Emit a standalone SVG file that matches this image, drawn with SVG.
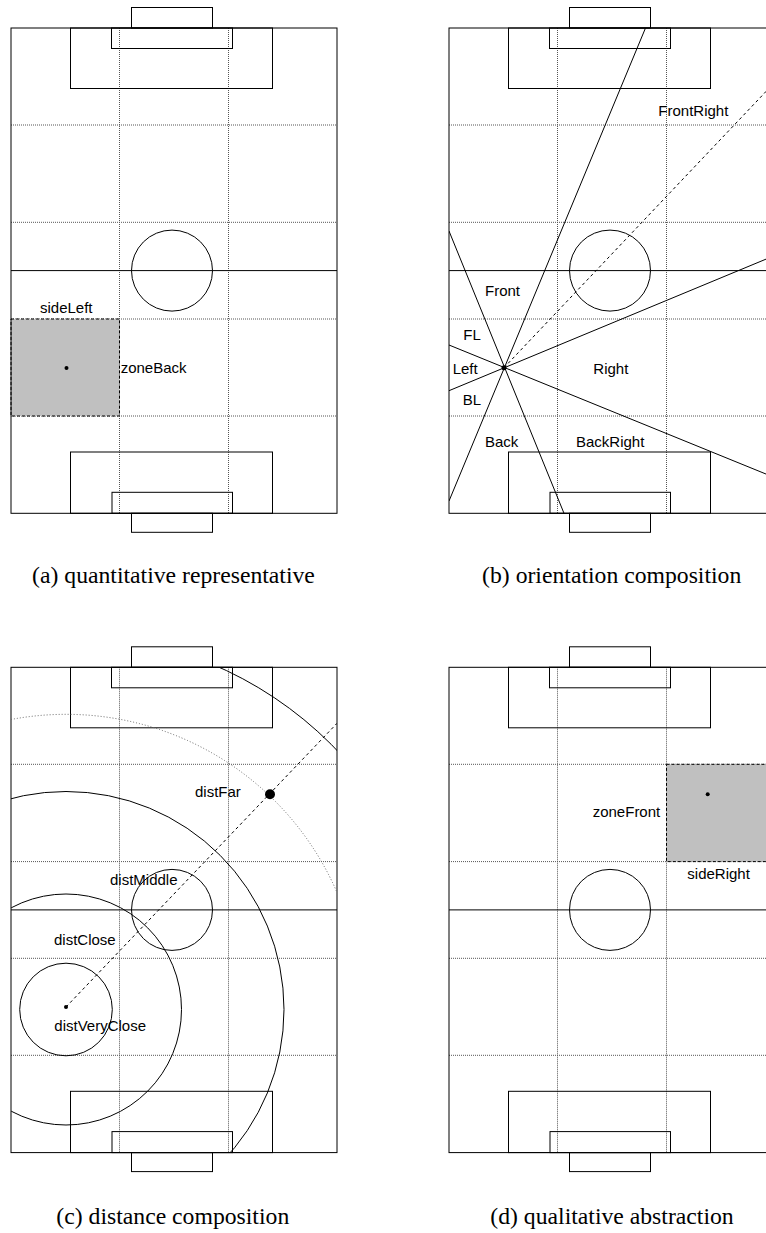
<svg xmlns="http://www.w3.org/2000/svg" xmlns:xlink="http://www.w3.org/1999/xlink" width="766" height="1233" viewBox="0 0 766 1233">
<style>
.ln{fill:none;stroke:#000;stroke-width:1}
.grid{fill:none;stroke:#555;stroke-width:1;stroke-dasharray:1 1}
.zone{fill:#c0c0c0;stroke:#000;stroke-width:1;stroke-dasharray:3 2}
.dash{fill:none;stroke:#000;stroke-width:1;stroke-dasharray:3 3}
.dotc{fill:none;stroke:#666;stroke-width:1;stroke-dasharray:1 2}
.lbl{font-family:"Liberation Sans",Arial,sans-serif;font-size:15px;fill:#000}
.cap{font-family:"Liberation Serif","Times New Roman",serif;font-size:23.7px;fill:#000;text-anchor:middle}
</style>
<defs>
<clipPath id="fieldClip" clipPathUnits="userSpaceOnUse"><rect x="11" y="28" width="326" height="485.3"/></clipPath>
<g id="grid">
<line class="grid" x1="119.5" y1="28" x2="119.5" y2="513.3"/>
<line class="grid" x1="228.5" y1="28" x2="228.5" y2="513.3"/>
<line class="grid" x1="11" y1="125" x2="337" y2="125"/>
<line class="grid" x1="11" y1="222.3" x2="337" y2="222.3"/>
<line class="grid" x1="11" y1="319" x2="337" y2="319"/>
<line class="grid" x1="11" y1="416" x2="337" y2="416"/>
</g>
<g id="lines">
<rect class="ln" x="11" y="28" width="326" height="485.3"/>
<rect class="ln" x="131.5" y="7.5" width="81" height="20.5"/>
<rect class="ln" x="111.5" y="28" width="121" height="20.5"/>
<rect class="ln" x="70.5" y="28" width="202" height="60.5"/>
<rect class="ln" x="70.5" y="452" width="202" height="61.3"/>
<rect class="ln" x="112" y="492.3" width="120.5" height="21"/>
<rect class="ln" x="131.5" y="513.3" width="81" height="19"/>
<line class="ln" x1="11" y1="270.6" x2="337" y2="270.6"/>
<circle class="ln" cx="172" cy="270.6" r="40.5"/>
</g>
</defs>

<g id="panel-a">
<use xlink:href="#grid"/>
<rect class="zone" x="11" y="319" width="108.5" height="97"/>
<use xlink:href="#lines"/>
<circle cx="66.5" cy="368" r="2" fill="#000"/>
<text class="lbl" x="40" y="313">sideLeft</text>
<text class="lbl" x="120.7" y="372.7">zoneBack</text>
<text class="cap" x="173.5" y="583.3">(a) quantitative representative</text>
</g>

<g id="panel-b" transform="translate(438,0)">
<use xlink:href="#grid"/>
<use xlink:href="#lines"/>
<g id="connectors-b" clip-path="url(#fieldClip)">
<line class="ln" x1="207.5" y1="28" x2="11" y2="501"/>
<line class="ln" x1="11" y1="231" x2="126" y2="513.3"/>
<line class="ln" x1="11" y1="345" x2="337" y2="477.7"/>
<line class="ln" x1="11" y1="390.7" x2="337" y2="255.4"/>
<line class="dash" x1="66" y1="367.7" x2="337" y2="82"/>
</g>
<circle cx="66" cy="367.7" r="2.5" fill="#000"/>
<text class="lbl" x="47" y="296">Front</text>
<text class="lbl" x="25.3" y="340">FL</text>
<text class="lbl" x="14.7" y="374.3">Left</text>
<text class="lbl" x="155.3" y="374.3">Right</text>
<text class="lbl" x="24.7" y="404.7">BL</text>
<text class="lbl" x="47" y="447.3">Back</text>
<text class="lbl" x="138" y="447.3">BackRight</text>
<text class="lbl" x="220.3" y="116">FrontRight</text>
<text class="cap" x="173.7" y="583.3">(b) orientation composition</text>
</g>

<g id="panel-c" transform="translate(0,639.3)">
<use xlink:href="#grid"/>
<use xlink:href="#lines"/>
<g id="connectors-c" clip-path="url(#fieldClip)">
<circle class="ln" cx="66" cy="370.2" r="46.3"/>
<circle class="ln" cx="66" cy="370.2" r="115.5"/>
<circle class="ln" cx="66" cy="370.2" r="218"/>
<path class="dotc" d="M 11 80.2 A 295.2 295.2 0 0 1 337 253.1"/>
<circle class="ln" cx="66" cy="370.2" r="375"/>
<line class="dash" x1="66" y1="367.7" x2="337" y2="84"/>
</g>
<circle cx="66" cy="367.7" r="2" fill="#000"/>
<circle cx="270" cy="155" r="5" fill="#000"/>
<text class="lbl" x="195" y="157.4">distFar</text>
<text class="lbl" x="110" y="245.7">distMiddle</text>
<text class="lbl" x="54" y="305.7">distClose</text>
<text class="lbl" x="54.3" y="391.4">distVeryClose</text>
<text class="cap" x="172.8" y="585">(c) distance composition</text>
</g>

<g id="panel-d" transform="translate(438,639.3)">
<use xlink:href="#grid"/>
<rect class="zone" x="228.5" y="125" width="108.5" height="97.3"/>
<use xlink:href="#lines"/>
<circle cx="269.7" cy="155" r="2" fill="#000"/>
<text class="lbl" x="154.7" y="178">zoneFront</text>
<text class="lbl" x="249.3" y="240">sideRight</text>
<text class="cap" x="174" y="585">(d) qualitative abstraction</text>
</g>
</svg>
